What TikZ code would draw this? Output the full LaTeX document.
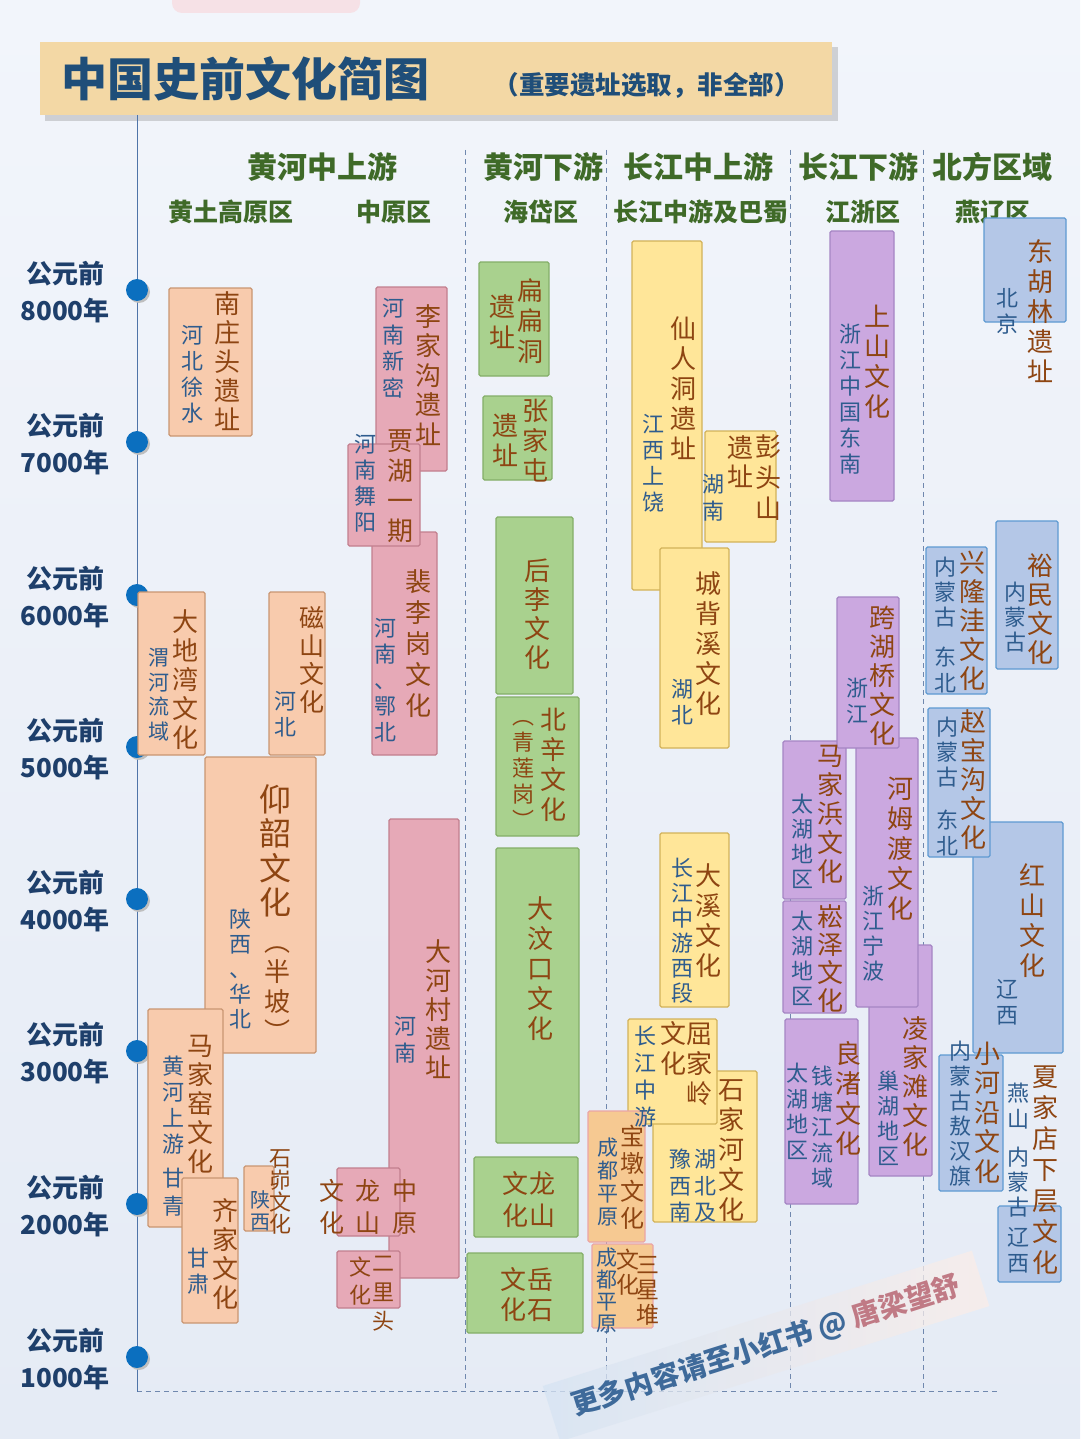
\documentclass[tikz,border=0pt]{standalone}
\usepackage{fontspec}
\newfontfamily\cjk{Noto Sans CJK SC}
\definecolor{bgtop}{HTML}{F2F5FB}
\definecolor{bgbot}{HTML}{E5EBF5}
\definecolor{titlefill}{HTML}{F3D8A5}
\definecolor{titleblue}{HTML}{1F4E79}
\definecolor{axisblue}{HTML}{4F74A8}
\definecolor{dotblue}{HTML}{0B6FBF}
\definecolor{yearblue}{HTML}{1E3F6B}
\definecolor{headgreen}{HTML}{3F6A28}
\definecolor{sepgray}{HTML}{7088AE}
\definecolor{brn}{HTML}{8E4512}
\definecolor{loc}{HTML}{2E5C8E}
\definecolor{peachf}{HTML}{F8CBAD}\definecolor{peachd}{HTML}{C99672}
\definecolor{rosef}{HTML}{E6A9B7}\definecolor{rosed}{HTML}{C27F8E}
\definecolor{leaff}{HTML}{A9D18E}\definecolor{leafd}{HTML}{84AE68}
\definecolor{sandf}{HTML}{FFE699}\definecolor{sandd}{HTML}{D2B25A}
\definecolor{lilacf}{HTML}{CBA8E0}\definecolor{lilacd}{HTML}{A585C4}
\definecolor{skyf}{HTML}{B4C7E7}\definecolor{skyd}{HTML}{5E9AD2}
\definecolor{amberf}{HTML}{F6C992}\definecolor{amberd}{HTML}{EBA5A5}
\definecolor{wmblue}{HTML}{D6E4F3}
\definecolor{wmpink}{HTML}{FBEDE8}
\definecolor{wmtext}{HTML}{3E6A9A}
\definecolor{wmred}{HTML}{C07A85}
\newcommand\fs[2]{\cjk\fontsize{#1}{#2}\selectfont}
\makeatletter
\newcommand\vt[1]{\vbox{\@tfor\vt@c:=#1\do{\hbox to 1em{\hss\vrule height .88em depth .12em width 0pt\vt@c\hss}}}}
\makeatother

\begin{document}
\begin{tikzpicture}[x=1pt, y=-1pt]
  \tikzstyle{site}=[line width=1.1pt, rounded corners=1.5pt]
  \tikzstyle{loessbox}=[site, fill=peachf, draw=peachd]
  \tikzstyle{plainbox}=[site, fill=rosef, draw=rosed]
  \tikzstyle{haidaibox}=[site, fill=leaff, draw=leafd]
  \tikzstyle{yangtzebox}=[site, fill=sandf, draw=sandd]
  \tikzstyle{shubox}=[site, fill=amberf, draw=amberd]
  \tikzstyle{jiangzhebox}=[site, fill=lilacf, draw=lilacd]
  \tikzstyle{yanliaobox}=[site, fill=skyf, draw=skyd]
  \tikzstyle{nm}=[anchor=north, inner sep=0pt, text=brn, font=\fs{26}{30}]
  \tikzstyle{lc}=[anchor=north, inner sep=0pt, text=loc, font=\fs{22}{25.5}]
  \tikzstyle{head}=[text=headgreen, font=\fs{30}{32}\bfseries]
  \tikzstyle{subhead}=[text=headgreen, font=\fs{25}{28}\bfseries]
  \tikzstyle{year}=[align=center, text=yearblue, font=\fs{26}{37}\bfseries]
  \tikzstyle{sep}=[sepgray, line width=1pt, dash pattern=on 5pt off 4pt]

  \useasboundingbox (0,0) rectangle (1080,1439);
  \shade[top color=bgtop, bottom color=bgbot] (0,0) rectangle (1080,1439);
  \fill[rosef!35, rounded corners=10pt] (172,-20) rectangle (360,13);

  \fill[black!45, opacity=.35] (45,47) rectangle (838,121);
  \fill[titlefill] (40,42) rectangle (832,115);
  \node[anchor=west, text=titleblue, font=\fs{46}{50}\bfseries] (title) at (58,79) {中国史前文化简图};
  \node[anchor=west, text=titleblue, font=\fs{25.5}{28}\bfseries] (subtitle) at (490,85) {（重要遗址选取，非全部）};

  \node[head] (h1) at (322,167) {黄河中上游};
  \node[head] (h2) at (543,167) {黄河下游};
  \node[head] (h3) at (698,167) {长江中上游};
  \node[head] (h4) at (858,167) {长江下游};
  \node[head] (h5) at (992,167) {北方区域};
  \node[subhead] (s1) at (231,212) {黄土高原区};
  \node[subhead] (s2) at (394,212) {中原区};
  \node[subhead] (s3) at (541,212) {海岱区};
  \node[subhead] (s4) at (701,212) {长江中游及巴蜀};
  \node[subhead] (s5) at (863,212) {江浙区};
  \node[subhead] (s6) at (993,212) {燕辽区};

  \foreach \x in {465,606,790,923}
    \draw[sep] (\x,150) -- (\x,1388);
  \draw[sep] (137,1391) -- (1000,1391);

  \draw[axisblue, line width=1pt] (137,115) -- (137,1392);
  \foreach \y/\yr [count=\i] in {290/8000,442/7000,595/6000,747/5000,899/4000,1051/3000,1204/2000,1357/1000} {
    \fill[black!25] (139,\y+2) circle (11);
    \fill[dotblue] (137,\y) circle (11);
    \node[year] (yr\i) at (65,\y+2) {公元前\\\yr 年};
  }

  \draw[loessbox] (169,288) rectangle (252,436);
  \draw[loessbox] (138,592) rectangle (205,755);
  \draw[loessbox] (269,592) rectangle (325,755);
  \draw[loessbox] (205,757) rectangle (316,1053);
  \draw[loessbox] (148,1009) rectangle (223,1227);
  \draw[loessbox] (182,1178) rectangle (238,1323);
  \draw[loessbox] (244,1166) rectangle (274,1231);

  \draw[plainbox] (376,287) rectangle (447,471);
  \draw[plainbox] (372,532) rectangle (437,755);
  \draw[plainbox] (348,444) rectangle (420,546);
  \draw[plainbox] (389,819) rectangle (459,1278);
  \draw[plainbox] (337,1168) rectangle (400,1236);
  \draw[plainbox] (337,1251) rectangle (400,1308);

  \draw[haidaibox] (479,262) rectangle (549,376);
  \draw[haidaibox] (483,396) rectangle (552,480);
  \draw[haidaibox] (496,517) rectangle (573,694);
  \draw[haidaibox] (496,697) rectangle (579,836);
  \draw[haidaibox] (496,848) rectangle (579,1143);
  \draw[haidaibox] (474,1157) rectangle (578,1237);
  \draw[haidaibox] (467,1253) rectangle (583,1333);

  \draw[yangtzebox] (632,241) rectangle (702,590);
  \draw[yangtzebox] (705,431) rectangle (776,542);
  \draw[yangtzebox] (660,548) rectangle (729,748);
  \draw[yangtzebox] (660,833) rectangle (729,1007);
  \draw[yangtzebox] (653,1071) rectangle (757,1222);
  \draw[yangtzebox] (628,1019) rectangle (717,1124);
  \draw[shubox] (588,1111) rectangle (645,1242);
  \draw[shubox] (592,1244) rectangle (653,1328);

  \draw[jiangzhebox] (830,231) rectangle (894,501);
  \draw[jiangzhebox] (783,741) rectangle (846,899);
  \draw[jiangzhebox] (869,945) rectangle (932,1176);
  \draw[jiangzhebox] (856,738) rectangle (918,1007);
  \draw[jiangzhebox] (837,597) rectangle (899,748);
  \draw[jiangzhebox] (783,901) rectangle (846,1013);
  \draw[jiangzhebox] (785,1019) rectangle (858,1204);

  \draw[yanliaobox] (984,218) rectangle (1066,322);
  \draw[yanliaobox] (926,547) rectangle (987,694);
  \draw[yanliaobox] (996,521) rectangle (1058,669);
  \draw[yanliaobox] (973,822) rectangle (1063,1053);
  \draw[yanliaobox] (928,708) rectangle (990,857);
  \draw[yanliaobox] (939,1055) rectangle (1003,1191);
  \draw[yanliaobox] (998,1206) rectangle (1061,1282);

  \node[nm, font=\fs{26}{29}] (nzt) at (227,290) {\vt{南庄头遗址}};
  \node[lc, font=\fs{22}{26}] (nztl) at (192,324) {\vt{河北徐水}};
  \node[nm, font=\fs{26}{29}] (ddw) at (185,608) {\vt{大地湾文化}};
  \node[lc, font=\fs{21}{24.5}] (ddwl) at (159,647) {\vt{渭河流域}};
  \node[nm, font=\fs{25}{28}] (cs) at (312,605) {\vt{磁山文化}};
  \node[lc] (csl) at (285,690) {\vt{河北}};
  \node[nm, font=\fs{32}{34.5}] (ys) at (275,783) {\vt{仰韶文化}};
  \node[nm] (ysb) at (277,928) {\vt{︵半坡︶}};
  \node[lc, font=\fs{22}{25}] (ysl) at (240,908) {\vt{陕西、华北}};
  \node[nm, font=\fs{26}{29}] (mjy) at (200,1032) {\vt{马家窑文化}};
  \node[lc, font=\fs{22}{26}] (mjyl) at (173,1055) {\vt{黄河上游}};
  \node[lc, font=\fs{22}{28}] (mjyg) at (173,1167) {\vt{甘青}};
  \node[nm, font=\fs{26}{29}] (qj) at (225,1197) {\vt{齐家文化}};
  \node[lc] (qjl) at (198,1247) {\vt{甘肃}};
  \node[nm, font=\fs{22}{22}] (sm) at (280,1147) {\vt{石峁文化}};
  \node[lc, font=\fs{20}{22}] (sml) at (260,1190) {\vt{陕西}};

  \node[nm, font=\fs{26}{29.5}] (ljg) at (428,303) {\vt{李家沟遗址}};
  \node[lc, font=\fs{22}{26.5}] (ljgl) at (393,297) {\vt{河南新密}};
  \node[nm] (jh) at (400,427) {\vt{贾湖一期}};
  \node[lc, font=\fs{22}{26}] (jhl) at (365,433) {\vt{河南舞阳}};
  \node[nm, font=\fs{26}{31}] (plg) at (418,568) {\vt{裴李岗文化}};
  \node[lc, font=\fs{22}{26}] (plgl) at (385,617) {\vt{河南、鄂北}};
  \node[nm, font=\fs{26}{29}] (dhc) at (438,938) {\vt{大河村遗址}};
  \node[lc, font=\fs{22}{27}] (dhcl) at (405,1015) {\vt{河南}};
  \node[nm, font=\fs{25}{32}] (zyls1) at (405,1178) {\vt{中原}};
  \node[nm, font=\fs{25}{32}] (zyls2) at (368,1178) {\vt{龙山}};
  \node[nm, font=\fs{25}{32}] (zyls3) at (332,1178) {\vt{文化}};
  \node[nm, font=\fs{22}{29}] (elt1) at (383,1252) {\vt{二里头}};
  \node[nm, font=\fs{22}{28}] (elt2) at (360,1256) {\vt{文化}};

  \node[nm, font=\fs{26}{30.5}] (bbd1) at (530,277) {\vt{扁扁洞}};
  \node[nm, font=\fs{26}{31}] (bbd2) at (502,293) {\vt{遗址}};
  \node[nm] (zjt1) at (535,397) {\vt{张家屯}};
  \node[nm] (zjt2) at (505,412) {\vt{遗址}};
  \node[nm, font=\fs{26}{29}] (hl) at (537,557) {\vt{后李文化}};
  \node[nm] (bx) at (553,706) {\vt{北辛文化}};
  \node[nm, font=\fs{22}{26}] (bxq) at (523,705) {\vt{︵青莲岗︶}};
  \node[nm] (dwk) at (540,895) {\vt{大汶口文化}};
  \node[nm, font=\fs{26}{32}] (hdls1) at (542,1170) {\vt{龙山}};
  \node[nm, font=\fs{26}{32}] (hdls2) at (515,1170) {\vt{文化}};
  \node[nm] (yus1) at (540,1266) {\vt{岳石}};
  \node[nm] (yus2) at (513,1266) {\vt{文化}};

  \node[nm] (xrd) at (683,315) {\vt{仙人洞遗址}};
  \node[lc, font=\fs{22}{26}] (xrdl) at (653,413) {\vt{江西上饶}};
  \node[nm, font=\fs{26}{31}] (pts1) at (768,433) {\vt{彭头山}};
  \node[nm, font=\fs{26}{29}] (pts2) at (740,434) {\vt{遗址}};
  \node[lc, font=\fs{22}{27}] (ptsl) at (713,473) {\vt{湖南}};
  \node[nm] (cbx) at (708,570) {\vt{城背溪文化}};
  \node[lc] (cbxl) at (682,678) {\vt{湖北}};
  \node[nm] (dx) at (708,862) {\vt{大溪文化}};
  \node[lc, font=\fs{22}{25}] (dxl) at (682,857) {\vt{长江中游西段}};
  \node[nm] (qjl1) at (699,1020) {\vt{屈家岭}};
  \node[nm] (qjl2) at (673,1020) {\vt{文化}};
  \node[lc, font=\fs{22}{27}] (qjll) at (645,1025) {\vt{长江中游}};
  \node[nm] (sjh) at (731,1076) {\vt{石家河文化}};
  \node[lc, font=\fs{22}{26.5}] (sjhl1) at (705,1148) {\vt{湖北及}};
  \node[lc, font=\fs{22}{26.5}] (sjhl2) at (680,1148) {\vt{豫西南}};
  \node[nm, font=\fs{24}{27.5}] (bd) at (632,1124) {\vt{宝墩文化}};
  \node[lc, font=\fs{21}{23}] (bdl) at (608,1137) {\vt{成都平原}};
  \node[nm, font=\fs{23}{25}] (sxd1) at (648,1253) {\vt{三星堆}};
  \node[nm, font=\fs{23}{25}] (sxd2) at (628,1248) {\vt{文化}};
  \node[lc, font=\fs{21}{22}] (sxdl) at (607,1247) {\vt{成都平原}};

  \node[nm] (ss) at (877,303) {\vt{上山文化}};
  \node[lc, font=\fs{22}{26}] (ssl) at (850,323) {\vt{浙江中国东南}};
  \node[nm, font=\fs{26}{29}] (khq) at (882,604) {\vt{跨湖桥文化}};
  \node[lc] (khql) at (857,677) {\vt{浙江}};
  \node[nm, font=\fs{26}{29}] (mjb) at (830,742) {\vt{马家浜文化}};
  \node[lc, font=\fs{22}{25}] (mjbl) at (802,793) {\vt{太湖地区}};
  \node[nm, font=\fs{26}{28}] (sz) at (830,903) {\vt{崧泽文化}};
  \node[lc, font=\fs{22}{25}] (szl) at (802,910) {\vt{太湖地区}};
  \node[nm] (hmd) at (900,775) {\vt{河姆渡文化}};
  \node[lc, font=\fs{22}{25}] (hmdl) at (873,885) {\vt{浙江宁波}};
  \node[nm, font=\fs{26}{29}] (ljt) at (915,1015) {\vt{凌家滩文化}};
  \node[lc, font=\fs{22}{25}] (ljtl) at (888,1070) {\vt{巢湖地区}};
  \node[nm] (lz) at (848,1040) {\vt{良渚文化}};
  \node[lc] (lzl1) at (822,1065) {\vt{钱塘江流域}};
  \node[lc] (lzl2) at (797,1062) {\vt{太湖地区}};

  \node[nm] (dhl) at (1040,238) {\vt{东胡林遗址}};
  \node[lc, font=\fs{22}{26}] (dhll) at (1007,287) {\vt{北京}};
  \node[nm, font=\fs{26}{29}] (xlw) at (972,549) {\vt{兴隆洼文化}};
  \node[lc, font=\fs{22}{25}] (xlwl1) at (945,556) {\vt{内蒙古}};
  \node[lc, font=\fs{22}{26}] (xlwl2) at (945,646) {\vt{东北}};
  \node[nm, font=\fs{26}{29}] (ym) at (1040,552) {\vt{裕民文化}};
  \node[lc, font=\fs{22}{25}] (yml) at (1015,581) {\vt{内蒙古}};
  \node[nm, font=\fs{26}{29}] (zbg) at (973,708) {\vt{赵宝沟文化}};
  \node[lc, font=\fs{22}{25}] (zbgl1) at (947,716) {\vt{内蒙古}};
  \node[lc, font=\fs{22}{26}] (zbgl2) at (947,809) {\vt{东北}};
  \node[nm] (hs) at (1032,862) {\vt{红山文化}};
  \node[lc] (hsl) at (1007,978) {\vt{辽西}};
  \node[nm, font=\fs{26}{29.5}] (xhy) at (987,1040) {\vt{小河沿文化}};
  \node[lc, font=\fs{22}{25}] (xhyl) at (960,1040) {\vt{内蒙古敖汉旗}};
  \node[nm, font=\fs{26}{31}] (xjd) at (1045,1063) {\vt{夏家店下层文化}};
  \node[lc] (xjdl1) at (1018,1082) {\vt{燕山}};
  \node[lc, font=\fs{22}{25}] (xjdl2) at (1018,1146) {\vt{内蒙古}};
  \node[lc] (xjdl3) at (1018,1226) {\vt{辽西}};

  \node[rotate=17.5, inner xsep=22pt, minimum height=58pt, left color=wmblue, right color=wmpink, fill opacity=.75, text opacity=1, font=\fs{28}{30}\bfseries] (wm) at (766,1346) {\textcolor{wmtext}{更多内容请至小红书 @} \textcolor{wmred}{唐梁望舒}};
\end{tikzpicture}
\end{document}
